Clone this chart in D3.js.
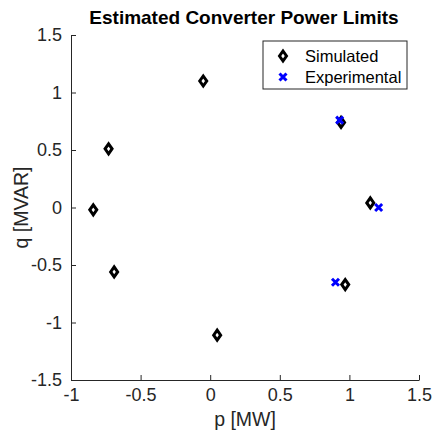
<!DOCTYPE html>
<html>
  <head>
    <meta charset="utf-8">
    <style>
      body { margin: 0; background: #fff; font-family: Arial, "Liberation Sans", Helvetica, sans-serif; }
      .tick text { font-size: 18px; fill: #262626; }
      .tick line, .domain { stroke: #262626; }
    </style>
  </head>
  <body>
    <script src="https://d3js.org/d3.v7.min.js"></script>
    <script>
      const simP = [-0.84, -0.73, -0.05, -0.69, 0.05, 0.94, 1.15, 0.97];
      const simQ = [-0.02, 0.51, 1.10, -0.56, -1.11, 0.74, 0.04, -0.67];
      const expP = [0.93, 1.21, 0.90];
      const expQ = [0.76, 0.00, -0.65];
      const xTicks = [-1, -0.5, 0, 0.5, 1, 1.5];
      const yTicks = [-1.5, -1, -0.5, 0, 0.5, 1, 1.5];

      const width = 433, height = 431;
      const margin = { top: 35, right: 14, bottom: 51, left: 71 };

      const x = d3.scaleLinear().domain([-1, 1.5]).range([margin.left, width - margin.right]);
      const y = d3.scaleLinear().domain([-1.5, 1.5]).range([height - margin.bottom, margin.top]);

      const svg = d3.select('body').append('svg')
        .attr('width', width)
        .attr('height', height);

      svg.append('g')
        .attr('transform', `translate(0,${height - margin.bottom})`)
        .call(d3.axisBottom(x).tickValues(xTicks).tickSizeInner(-5).tickSizeOuter(0).tickPadding(7).tickFormat(d => String(d)))
        .call(g => g.selectAll('.tick text').attr('dy', '0.78em'));

      svg.append('g')
        .attr('transform', `translate(${margin.left},0)`)
        .call(d3.axisLeft(y).tickValues(yTicks).tickSizeInner(-5).tickSizeOuter(0).tickPadding(9).tickFormat(d => String(d)));

      svg.selectAll('.domain').attr('stroke-width', 1);

      svg.append('text')
        .attr('x', 244)
        .attr('y', 24)
        .attr('text-anchor', 'middle')
        .attr('font-weight', 'bold')
        .attr('font-size', 19)
        .text('Estimated Converter Power Limits');

      svg.append('text')
        .attr('x', (margin.left + width - margin.right) / 2)
        .attr('y', 426)
        .attr('text-anchor', 'middle')
        .attr('font-size', 19.5)
        .attr('fill', '#262626')
        .text('p [MW]');

      svg.append('text')
        .attr('transform', `translate(28,${(margin.top + height - margin.bottom) / 2}) rotate(-90)`)
        .attr('text-anchor', 'middle')
        .attr('font-size', 19.5)
        .attr('fill', '#262626')
        .text('q [MVAR]');

      const diamond = (cx, cy) => `M${cx},${cy - 5}L${cx + 3.5},${cy}L${cx},${cy + 5}L${cx - 3.5},${cy}Z`;
      const cross = (cx, cy) => `M${cx - 3.5},${cy - 3.5}L${cx + 3.5},${cy + 3.5}M${cx - 3.5},${cy + 3.5}L${cx + 3.5},${cy - 3.5}`;

      svg.append('g').selectAll('path')
        .data(d3.range(simP.length))
        .join('path')
        .attr('d', i => diamond(x(simP[i]), y(simQ[i])))
        .attr('fill', '#fff')
        .attr('stroke', '#000')
        .attr('stroke-width', 3);

      svg.append('g').selectAll('path')
        .data(d3.range(expP.length))
        .join('path')
        .attr('d', i => cross(x(expP[i]), y(expQ[i])))
        .attr('fill', 'none')
        .attr('stroke', '#0000ff')
        .attr('stroke-width', 3);

      // legend
      const lg = svg.append('g').attr('transform', 'translate(263,41)');
      lg.append('rect')
        .attr('width', 144).attr('height', 48)
        .attr('fill', '#fff').attr('stroke', '#262626').attr('stroke-width', 1);
      lg.append('path').attr('d', diamond(20, 15))
        .attr('fill', '#fff').attr('stroke', '#000').attr('stroke-width', 3);
      lg.append('path').attr('d', cross(20, 36))
        .attr('fill', 'none').attr('stroke', '#0000ff').attr('stroke-width', 3);
      lg.append('text').attr('x', 42).attr('y', 21).attr('font-size', 16.5).text('Simulated');
      lg.append('text').attr('x', 42).attr('y', 42).attr('font-size', 16.5).text('Experimental');
    </script>
  </body>
</html>
